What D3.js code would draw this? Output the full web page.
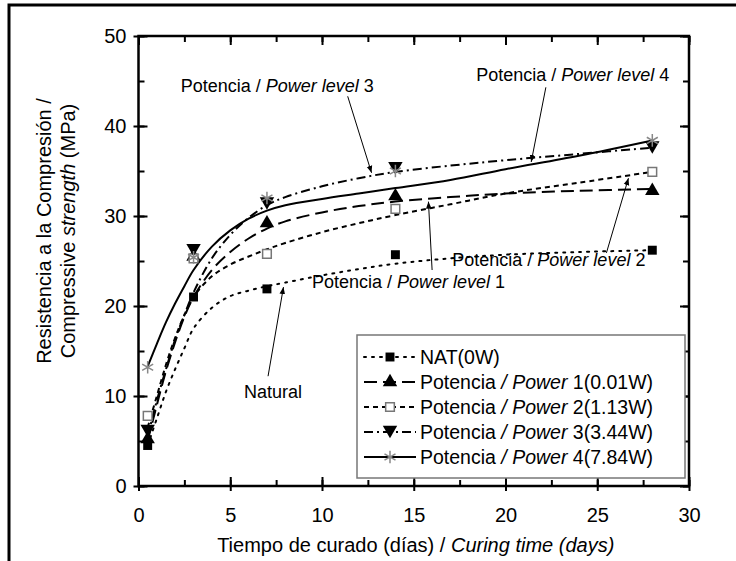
<!DOCTYPE html>
<meta charset="utf-8">
<style>
body { margin: 0; background: #fff; }
svg { font-family: "Liberation Sans", Arial, sans-serif; }
.frame { fill: none; stroke: #000; stroke-width: 2.5px; }
.axis path { display: none; }
.axis line { stroke: #000; stroke-width: 2px; }
.axis text { font-size: 20px; fill: #000; }
.fit { fill: none; stroke: #000; stroke-width: 2px; }
.ann { font-size: 18px; fill: #000; }
.leg text { font-size: 19.5px; fill: #000; }
</style>
<svg width="736" height="561"></svg>
<script src="https://cdn.jsdelivr.net/npm/d3@7"></script>
<script>
// measured points
var days = [0.5, 3, 7, 14, 28];
var nat = [4.5, 21.0, 21.9, 25.7, 26.2];
var pow1 = [5.2, 25.5, 29.2, 32.2, 32.8];
var pow2 = [7.8, 25.3, 25.8, 30.8, 34.9];
var pow3 = [6.1, 26.2, 31.4, 35.3, 37.6];
var pow4 = [13.2, 25.4, 32.0, 35.0, 38.4];

// fitted curves
var fitDays = [0.5, 1, 1.5, 2, 2.5, 3, 4, 5, 6, 7, 8, 10, 12, 14, 17, 20, 24, 28];
var natFit = [4.5, 7.5, 10.5, 13, 15.3, 17.5, 19.8, 21.1, 21.7, 22.2, 22.6, 23.4, 24.1, 24.7, 25.3, 25.7, 26.0, 26.2];
var pow1Fit = [5, 9, 12.8, 16, 18.8, 21, 24, 26, 27.5, 28.6, 29.4, 30.4, 31.1, 31.6, 32.1, 32.5, 32.8, 33.0];
var pow2Fit = [6.5, 10, 13.5, 16.5, 19, 21, 23.3, 24.6, 25.5, 26.3, 27, 28.2, 29.2, 30.1, 31.3, 32.5, 33.7, 34.9];
var pow3Fit = [5.5, 9.5, 13, 16.3, 19, 21.5, 25.3, 27.9, 29.8, 31.2, 32.1, 33.3, 34.2, 34.9, 35.6, 36.2, 36.9, 37.6];
var pow4Fit = [13.3, 15.8, 18.2, 20.3, 22.2, 24, 26.6, 28.4, 29.7, 30.6, 31.2, 31.9, 32.5, 33.1, 34, 35.2, 36.7, 38.4];

var xTicks = [0, 5, 10, 15, 20, 25, 30];
var yTicks = [0, 10, 20, 30, 40, 50];

var legendNames = [
  ["NAT(0W)", "", ""],
  ["Potencia ", "/ Power", " 1(0.01W)"],
  ["Potencia ", "/ Power", " 2(1.13W)"],
  ["Potencia ", "/ Power", " 3(3.44W)"],
  ["Potencia ", "/ Power", " 4(7.84W)"]
];

// annotations: text anchor point and arrow (days, MPa)
var notes = [
  {pre: "Potencia / ", it: "Power level", post: " 3", tx: 2.3, ty: 43.8, x1: 11.4, y1: 43.3, x2: 12.7, y2: 34.8},
  {pre: "Potencia / ", it: "Power level", post: " 4", tx: 18.4, ty: 45.0, x1: 22.2, y1: 44.3, x2: 21.4, y2: 36.0},
  {pre: "Potencia / ", it: "Power level", post: " 2", tx: 17.1, ty: 24.4, x1: 25.5, y1: 25.9, x2: 26.7, y2: 34.2},
  {pre: "Potencia / ", it: "Power level", post: " 1", tx: 9.45, ty: 22.0, x1: 16.0, y1: 24.0, x2: 15.8, y2: 31.6},
  {pre: "Natural", it: "", post: "", tx: 5.75, ty: 9.8, x1: 7.06, y1: 12.2, x2: 7.9, y2: 22.1}
];

var svg = d3.select("svg");
var x = d3.scaleLinear().domain([0, 30]).range([138.5, 689]);
var y = d3.scaleLinear().domain([0, 50]).range([486, 36]);

// custom marker shapes
var triDown = {draw: function(ctx, size) {
  var h = Math.sqrt(size / 0.433), t = h * Math.sqrt(3) / 2;
  ctx.moveTo(-h / 2, -t / 2); ctx.lineTo(h / 2, -t / 2); ctx.lineTo(0, t / 2); ctx.closePath();
}};
var aster = {draw: function(ctx, size) {
  var r = Math.sqrt(size) / 2, c = r * 0.87, s = r * 0.5;
  ctx.moveTo(0, -r); ctx.lineTo(0, r);
  ctx.moveTo(-c, -s); ctx.lineTo(c, s);
  ctx.moveTo(-c, s); ctx.lineTo(c, -s);
}};

var series = [
  {vals: nat, fit: natFit, dash: "2,6", cap: "round", sym: d3.symbolSquare, size: 80, fill: "#000", stroke: "none"},
  {vals: pow1, fit: pow1Fit, dash: "13,6", cap: "butt", sym: d3.symbolTriangle, size: 90, fill: "#000", stroke: "none"},
  {vals: pow2, fit: pow2Fit, dash: "5,4", cap: "butt", sym: d3.symbolSquare, size: 75, fill: "#fff", stroke: "#777"},
  {vals: pow3, fit: pow3Fit, dash: "9,4,2,4", cap: "butt", sym: triDown, size: 90, fill: "#000", stroke: "none"},
  {vals: pow4, fit: pow4Fit, dash: null, cap: "butt", sym: aster, size: 160, fill: "none", stroke: "#888"}
];

// outer figure border
svg.append("path").attr("d", "M9,561V5H736").attr("fill", "none").attr("stroke", "#000").attr("stroke-width", 3);

// axes, ticks pointing inward
function tickAxis(axis, vals, size, tr, lab) {
  return svg.append("g").attr("class", "axis").attr("transform", tr)
    .call(axis.tickValues(vals).tickSize(size).tickPadding(lab ? 14 : 0).tickFormat(lab ? d3.format("d") : ""));
}
var minorX = d3.range(0, 30.1, 2.5), minorY = d3.range(0, 50.1, 5);
tickAxis(d3.axisBottom(x), minorX, -6, "translate(0,486)", false);
tickAxis(d3.axisTop(x), minorX, -6, "translate(0,36)", false);
tickAxis(d3.axisLeft(y), minorY, -6, "translate(138.5,0)", false);
tickAxis(d3.axisRight(y), minorY, -6, "translate(689,0)", false);
var bx = tickAxis(d3.axisBottom(x), xTicks, -9, "translate(0,486)", true);
bx.selectAll("line").attr("y1", 5);
bx.selectAll("text").attr("dy", "0.71em").attr("y", 22);
var ly = tickAxis(d3.axisLeft(y), yTicks, -9, "translate(138.5,0)", true);
ly.selectAll("line").attr("x1", -5);
ly.selectAll("text").attr("x", -12);
tickAxis(d3.axisTop(x), xTicks, -9, "translate(0,36)", false);
tickAxis(d3.axisRight(y), yTicks, -9, "translate(689,0)", false);

svg.append("rect").attr("class", "frame")
  .attr("x", x(0)).attr("y", y(50)).attr("width", x(30) - x(0)).attr("height", y(0) - y(50));

// axis titles
var xt = svg.append("text").attr("x", (x(0) + x(30)) / 2 + 2).attr("y", 552)
  .attr("text-anchor", "middle").style("font-size", "20px");
xt.append("tspan").text("Tiempo de curado (días) / ");
xt.append("tspan").style("font-style", "italic").text("Curing time (days)");

var yt = svg.append("g").attr("transform", "translate(51," + ((y(0) + y(50)) / 2 - 30) + ") rotate(-90)");
yt.append("text").attr("text-anchor", "middle").style("font-size", "20px").text("Resistencia a la Compresión /");
var yt2 = yt.append("text").attr("text-anchor", "middle").attr("y", 24).style("font-size", "20px");
yt2.append("tspan").text("Compressive ");
yt2.append("tspan").style("font-style", "italic").text("strength");
yt2.append("tspan").text(" (MPa)");

// fitted lines
var line = d3.line().curve(d3.curveCatmullRom)
  .x(function(d) { return x(d[0]); })
  .y(function(d) { return y(d[1]); });

series.forEach(function(s) {
  svg.append("path").attr("class", "fit")
    .attr("d", line(fitDays.map(function(d, i) { return [d, s.fit[i]]; })))
    .attr("stroke-dasharray", s.dash)
    .attr("stroke-linecap", s.cap);
});

// markers
series.forEach(function(s) {
  svg.append("g").selectAll("path").data(s.vals).enter().append("path")
    .attr("transform", function(d, i) { return "translate(" + x(days[i]) + "," + y(d) + ")"; })
    .attr("d", d3.symbol().type(s.sym).size(s.size))
    .attr("fill", s.fill).attr("stroke", s.stroke).attr("stroke-width", 1.5);
});

// annotations
svg.append("defs").append("marker").attr("id", "arr")
  .attr("viewBox", "0 0 10 10").attr("refX", 10).attr("refY", 5)
  .attr("markerWidth", 7).attr("markerHeight", 7).attr("orient", "auto")
  .append("path").attr("d", "M0,1L10,5L0,9Z").attr("fill", "#000");

notes.forEach(function(n) {
  svg.append("line")
    .attr("x1", x(n.x1)).attr("y1", y(n.y1)).attr("x2", x(n.x2)).attr("y2", y(n.y2))
    .attr("stroke", "#000").attr("stroke-width", 1).attr("marker-end", "url(#arr)");
  var t = svg.append("text").attr("class", "ann").attr("x", x(n.tx)).attr("y", y(n.ty));
  t.append("tspan").text(n.pre);
  if (n.it) t.append("tspan").style("font-style", "italic").text(n.it);
  if (n.post) t.append("tspan").text(n.post);
});

// legend
var lg = svg.append("g").attr("class", "leg");
lg.append("rect").attr("x", 357).attr("y", 335).attr("width", 328).attr("height", 143)
  .attr("fill", "#fff").attr("stroke", "#777").attr("stroke-width", 1.5);
series.forEach(function(s, i) {
  var cy = 357 + i * 25;
  lg.append("line").attr("x1", 364).attr("x2", 416).attr("y1", cy).attr("y2", cy)
    .attr("stroke", "#000").attr("stroke-width", 2)
    .attr("stroke-dasharray", s.dash).attr("stroke-linecap", s.cap);
  lg.append("path").attr("transform", "translate(390," + cy + ")")
    .attr("d", d3.symbol().type(s.sym).size(s.size))
    .attr("fill", s.fill)
    .attr("stroke", s.stroke).attr("stroke-width", 1.5);
  var t = lg.append("text").attr("x", 420).attr("y", cy).attr("dy", "0.35em");
  t.append("tspan").text(legendNames[i][0]);
  if (legendNames[i][1]) {
    t.append("tspan").style("font-style", "italic").text(legendNames[i][1]);
    t.append("tspan").text(legendNames[i][2]);
  }
});
</script>
